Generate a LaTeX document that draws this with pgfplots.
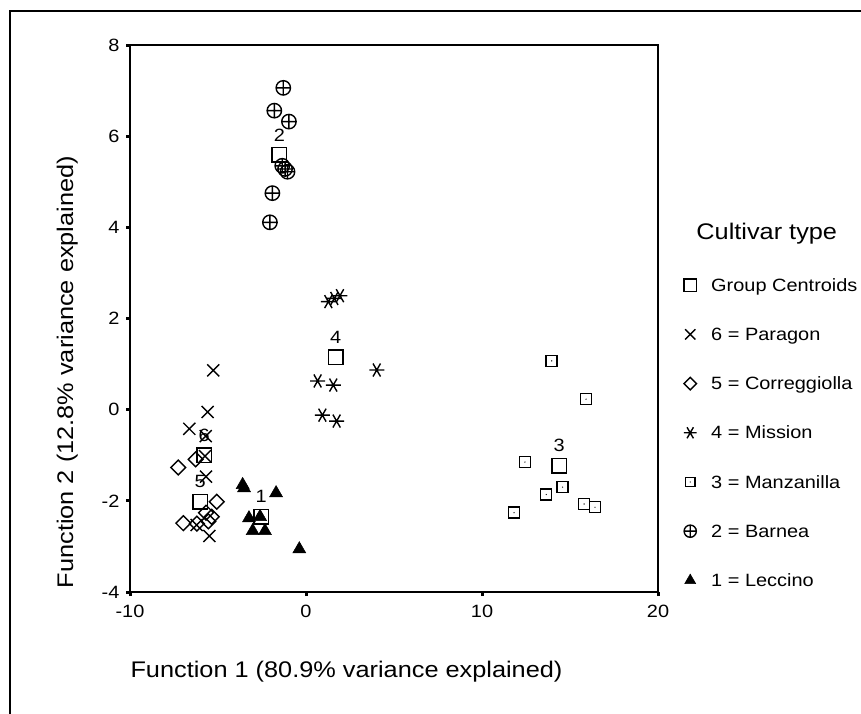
\documentclass[border=0pt]{standalone}
\usepackage{fontspec}
\setmainfont{Liberation Sans}[FakeStretch=1.12]
\usepackage{pgfplots}
\pgfplotsset{compat=1.18}
\pgfdeclareplotmark{sqdot}{%
  \pgfpathrectangle{\pgfqpoint{-\pgfplotmarksize}{-\pgfplotmarksize}}{\pgfqpoint{2\pgfplotmarksize}{2\pgfplotmarksize}}%
  \pgfusepathqstroke
  \pgfpathcircle{\pgfpointorigin}{0.7pt}%
  \pgfusepathqfill
}
\pgfdeclareplotmark{diam}{%
  \pgfpathmoveto{\pgfqpoint{0pt}{\pgfplotmarksize}}%
  \pgfpathlineto{\pgfqpoint{\pgfplotmarksize}{0pt}}%
  \pgfpathlineto{\pgfqpoint{0pt}{-\pgfplotmarksize}}%
  \pgfpathlineto{\pgfqpoint{-\pgfplotmarksize}{0pt}}%
  \pgfpathclose\pgfusepathqstroke
}
\pgfdeclareplotmark{hast}{%
  \pgfpathmoveto{\pgfqpoint{-\pgfplotmarksize}{0pt}}\pgfpathlineto{\pgfqpoint{\pgfplotmarksize}{0pt}}%
  \pgfpathmoveto{\pgfqpoint{-.5\pgfplotmarksize}{-.866\pgfplotmarksize}}\pgfpathlineto{\pgfqpoint{.5\pgfplotmarksize}{.866\pgfplotmarksize}}%
  \pgfpathmoveto{\pgfqpoint{-.5\pgfplotmarksize}{.866\pgfplotmarksize}}\pgfpathlineto{\pgfqpoint{.5\pgfplotmarksize}{-.866\pgfplotmarksize}}%
  \pgfusepathqstroke
}
\newcommand\smallf{\fontsize{17.8pt}{20pt}\selectfont}
\newcommand\bigf{\fontsize{22.6pt}{26pt}\selectfont}
\pgfplotsset{mylegimg/.style={legend image code/.code={%
  \draw[##1,/tikz/every mark/.append style={scale=0.85}] plot coordinates {(0pt,6.2pt)};
  \path[draw=none,fill=none] (-10pt,0pt) rectangle (10pt,12pt);}}}
\begin{document}
\begin{tikzpicture}
\useasboundingbox (0pt,0pt) rectangle (861pt,713pt);
\draw[line width=2pt] (9.5pt,-5pt) -- (9.5pt,702pt) -- (870pt,702pt);
\begin{axis}[
  at={(130pt,121pt)}, anchor=south west,
  scale only axis, width=528pt, height=547pt,
  xmin=-10, xmax=20, ymin=-4, ymax=8,
  xtick={-10,0,10,20}, ytick={-4,-2,0,2,4,6,8},
  tick align=outside, tick pos=left,
  major tick length=4pt,
  tick style={line width=3pt, black},
  axis line style={line width=1.2pt},
  /pgf/number format/assume math mode=true,
  ticklabel style={font=\smallf},
  xticklabel style={yshift=-6pt},
  yticklabel style={xshift=-3pt},
  label style={font=\bigf},
  xlabel={Function 1 (80.9\% variance explained)},
  ylabel={Function 2 (12.8\% variance explained)},
  xlabel style={at={(axis description cs:0.41,-0.146)}, anchor=center},
  ylabel style={at={(axis description cs:-0.119,0.402)}, anchor=center},
  clip=false,
  legend style={at={(axis description cs:1.0417,0.5728)}, anchor=north west,
    draw=none, fill=none, inner sep=0pt, row sep=33.2pt, column sep=11pt,
    font=\smallf,
    nodes={anchor=base west, inner sep=0pt, text height=12.5pt, text depth=3.5pt}},
]
\draw[line width=2pt] (rel axis cs:0,1) -- (rel axis cs:0,0) -- (rel axis cs:1,0);
\addplot[only marks, mark=square, mark size=7.2pt, mark options={line width=1.5pt},
  nodes near coords, point meta=explicit symbolic,
  every node near coord/.append style={font=\smallf, anchor=center, yshift=20pt},
  mylegimg] table[meta=label] {
x y label
-2.55 -2.35 1
-1.51 5.59 2
14.38 -1.23 3
1.69 1.15 4
-6.02 -2.02 5
-5.78 -1.00 6
};
\addlegendentry{Group Centroids}
\addplot[only marks, mark=x, mark size=8.5pt, mark options={line width=1.4pt}, mylegimg] coordinates {
(-5.27,0.86) (-5.59,-0.05) (-6.63,-0.42) (-5.70,-0.58) (-5.74,-1.02) (-5.68,-1.47) (-6.21,-2.53) (-5.49,-2.77)};
\addlegendentry{6 = Paragon}
\addplot[only marks, mark=diam, mark size=7.4pt, mark options={line width=1.4pt}, mylegimg] coordinates {
(-7.26,-1.27) (-6.27,-1.09) (-5.07,-2.02) (-5.68,-2.26) (-5.36,-2.35) (-5.55,-2.45) (-6.97,-2.49) (-6.20,-2.50)};
\addlegendentry{5 = Correggiolla}
\addplot[only marks, mark=hast, mark size=7.5pt, mark options={line width=1.4pt}, mylegimg] coordinates {
(1.27,2.37) (1.61,2.44) (1.93,2.50) (0.66,0.63) (1.55,0.54) (4.02,0.87) (0.93,-0.12) (1.74,-0.25)};
\addlegendentry{4 = Mission}
\addplot[only marks, mark=sqdot, mark size=5.5pt, mark options={line width=1.5pt}, mylegimg] coordinates {
(13.96,1.07) (15.91,0.23) (12.44,-1.15) (14.58,-1.70) (13.65,-1.86) (15.80,-2.07) (16.42,-2.14) (11.82,-2.26)};
\addlegendentry{3 = Manzanilla}
\addplot[only marks, mark=oplus, mark size=7.2pt, mark options={line width=1.4pt}, mylegimg] coordinates {
(-1.29,7.06) (-1.80,6.56) (-0.97,6.32) (-1.35,5.35) (-1.19,5.28) (-1.05,5.22) (-1.91,4.75) (-2.05,4.11)};
\addlegendentry{2 = Barnea}
\addplot[only marks, mark=triangle*, mark size=7.5pt, mark options={line width=0.5pt, fill=black}, mylegimg] coordinates {
(-3.60,-1.65) (-3.52,-1.72) (-1.70,-1.83) (-3.24,-2.38) (-2.61,-2.35) (-3.03,-2.66) (-2.33,-2.66) (-0.38,-3.06)};
\addlegendentry{1 = Leccino}
\node[font=\bigf] at (axis description cs:1.206,0.656) {Cultivar type};
\end{axis}
\end{tikzpicture}
\end{document}
